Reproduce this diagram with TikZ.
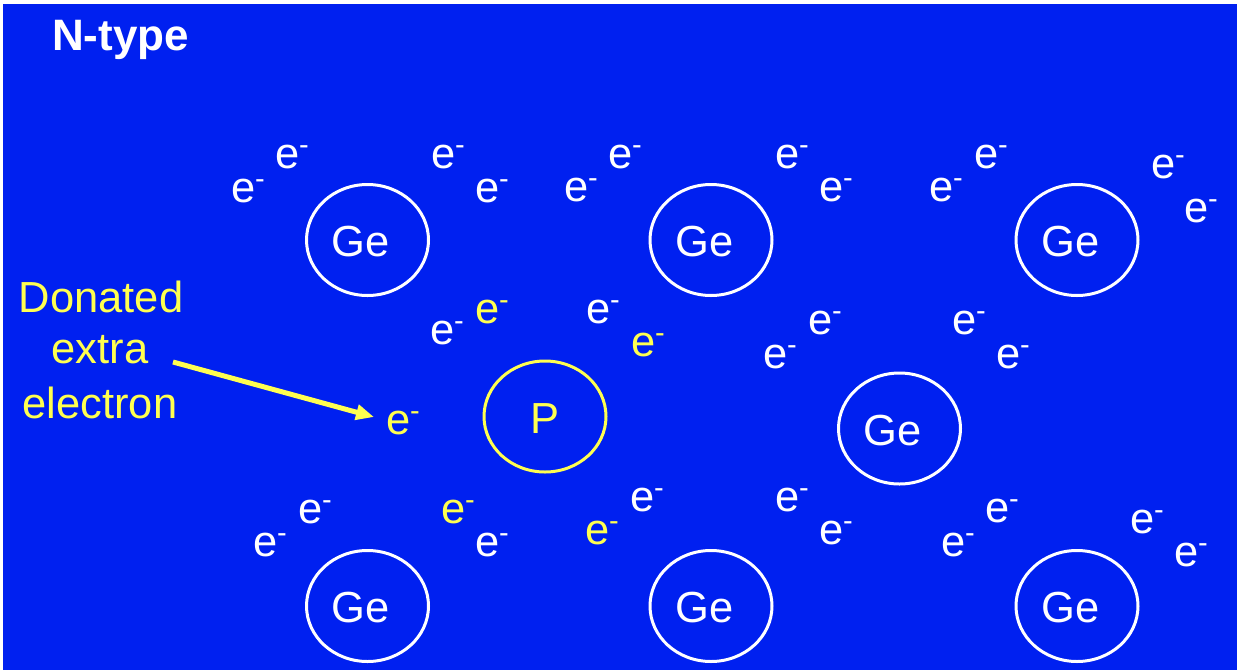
\documentclass[tikz,border=0pt]{standalone}
\usepackage{fontspec}
\setmainfont{Liberation Sans}
\usetikzlibrary{shapes.geometric,arrows.meta}
\definecolor{bg}{RGB}{0,32,240}
\definecolor{yel}{RGB}{255,255,80}
\newcommand{\elec}{e\raisebox{0.33em}{\fontsize{29}{29}\selectfont -}}
\newcommand{\E}[4]{\node[#4] (#1) at ({#2-12},{#3+11.5}) {\elec};}
\newcommand{\atomat}[6]{%
  \node[#4] (#1) at (#2,#3) {};
  \node[#4lbl] (#1t) at ({#2+#6},{#3+16.5}) {#5};}
\begin{document}
\begin{tikzpicture}[x=1pt,y=-1pt,
  every node/.style={inner sep=0pt, outer sep=0pt},
  bigfont/.style={font=\fontsize{43.5}{43.5}\selectfont},
  el/.style={anchor=base west, text=white, bigfont},
  ely/.style={el, text=yel},
  atom/.style={draw=white, line width=3pt, ellipse, minimum width=122pt, minimum height=111pt},
  atomlbl/.style={anchor=base, text=white, bigfont},
  patom/.style={atom, draw=yel},
  patomlbl/.style={atomlbl, text=yel},
  donor/.style={anchor=base, text=yel, bigfont},
  arr/.style={draw=yel, line width=5pt, -{Triangle[length=18pt,width=15pt]}}
]
\useasboundingbox (0,0) rectangle (1243,670);
\fill[white] (0,0) rectangle (1243,670);
\fill[bg] (3,4) rectangle (1237,670);

\node[anchor=base west, text=white, font=\fontsize{44}{44}\selectfont\bfseries] (title) at (52,50) {N-type};

% atoms
\atomat{g1}{367.5}{240}{atom}{Ge}{-6.5}
\atomat{g2}{711}{240}{atom}{Ge}{-6.5}
\atomat{g3}{1077}{240}{atom}{Ge}{-6.5}
\atomat{p}{545}{416.5}{patom}{P}{0}
\atomat{g4}{899.5}{428.5}{atom}{Ge}{-6.5}
\atomat{g5}{367.5}{606}{atom}{Ge}{-6.5}
\atomat{g6}{711}{606}{atom}{Ge}{-6.5}
\atomat{g7}{1077}{606}{atom}{Ge}{-6.5}

% electrons top
\E{e1}{243}{191}{el}
\E{e2}{287}{157}{el}
\E{e3}{443}{157}{el}
\E{e4}{487}{191}{el}
\E{e5}{576}{190}{el}
\E{e6}{620}{157}{el}
\E{e7}{787}{157}{el}
\E{e8}{831}{190}{el}
\E{e9}{941}{190}{el}
\E{e10}{986}{157}{el}
\E{e11}{1163}{167}{el}
\E{e12}{1196}{211}{el}
% middle
\E{e13}{442}{333}{el}
\E{e14}{487}{312}{ely}
\E{e15}{598}{312}{el}
\E{e16}{643}{345}{ely}
\E{e17}{775}{357}{el}
\E{e18}{820}{323}{el}
\E{e19}{964}{323}{el}
\E{e20}{1008}{357}{el}
\E{ed}{398}{423}{ely}
% bottom
\E{e21}{265}{545}{el}
\E{e22}{310}{512}{el}
\E{e23}{453}{512}{ely}
\E{e24}{487}{545}{el}
\E{e25}{597}{533}{ely}
\E{e26}{642}{500}{el}
\E{e27}{787}{500}{el}
\E{e28}{831}{533}{el}
\E{e29}{953}{545}{el}
\E{e30}{997}{511}{el}
\E{e31}{1142}{522}{el}
\E{e32}{1186}{555}{el}

% label
\node[donor] (d1) at (101,312) {Donated};
\node[donor] (d2) at (100,363) {extra};
\node[donor] (d3) at (100,418) {electron};
\coordinate (aS) at (173,362);
\coordinate (aE) at (374,417);
\draw[arr] (aS) -- (aE);
\end{tikzpicture}
\end{document}
